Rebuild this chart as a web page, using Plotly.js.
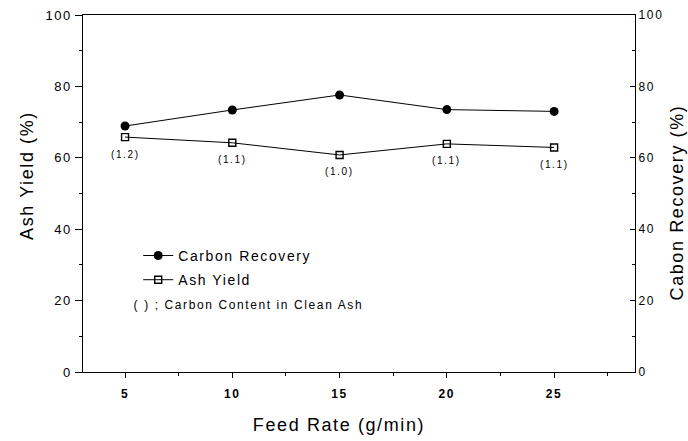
<!DOCTYPE html>
<html>
<head>
<meta charset="utf-8">
<script src="https://cdn.plot.ly/plotly-3.0.1.min.js"></script>
<style>
html,body{margin:0;padding:0;background:#fff;}
#chart{width:688px;height:441px;}
.main-svg text{letter-spacing:1.6px;}
.legend [clip-path]{clip-path:none !important;}
</style>
</head>
<body>
<div id="chart"></div>
<script>
// Data
const feedRate = [5, 10, 15, 20, 25];
const carbonRecovery = [68.9, 73.4, 77.6, 73.5, 73.0];
const ashYield = [65.8, 64.2, 60.8, 63.9, 62.9];
const carbonContent = ['(1.2)', '(1.1)', '(1.0)', '(1.1)', '(1.1)'];
const xTicks = [5, 10, 15, 20, 25];
const yTicks = [0, 20, 40, 60, 80, 100];

const FONT = 'Liberation Sans, Arial, Helvetica, sans-serif';

const traces = [
  {
    x: feedRate, y: carbonRecovery, yaxis: 'y2',
    name: 'Carbon Recovery', legendgroup: 'a', mode: 'lines+markers',
    line: {color: '#000', width: 1},
    marker: {symbol: 'circle', size: 9, color: '#000'}
  },
  {
    x: feedRate, y: ashYield, yaxis: 'y',
    name: 'Ash Yield', legendgroup: 'b', mode: 'lines+markers',
    line: {color: '#000', width: 1},
    marker: {symbol: 'square-open', size: 7, color: '#000', line: {width: 1.4, color: '#000'}}
  }
];

const annotations = feedRate.map((x, i) => ({
  x: x, y: ashYield[i], xref: 'x', yref: 'y',
  text: carbonContent[i], showarrow: false,
  yshift: -17, font: {family: FONT, size: 10, color: '#000'}
}));
annotations.push({
  xref: 'paper', yref: 'paper', x: 0.3, y: 0.188,
  xanchor: 'center', yanchor: 'middle', showarrow: false,
  text: '( ) ; Carbon Content in Clean Ash',
  font: {family: FONT, size: 12, color: '#000'}
});

const layout = {
  width: 688, height: 441,
  margin: {l: 83, r: 53, t: 15, b: 69},
  paper_bgcolor: '#fff', plot_bgcolor: '#fff',
  font: {family: FONT, color: '#000'},
  showlegend: true,
  legend: {
    x: 0.1, y: 0.37, xanchor: 'left', yanchor: 'top',
    bgcolor: 'rgba(0,0,0,0)', borderwidth: 0,
    font: {family: FONT, size: 14, color: '#000'},
    tracegroupgap: 3
  },
  xaxis: {
    range: [3.04, 28.77],
    tickvals: xTicks, ticktext: xTicks.map(String),
    ticks: 'outside', ticklen: 5, tickwidth: 1, tickcolor: '#000',
    ticklabelstandoff: 6,
    minor: {dtick: 2.5, tick0: 2.5, ticks: 'outside', ticklen: 3, tickcolor: '#000'},
    showline: true, linecolor: '#000', linewidth: 1, mirror: true,
    showgrid: false, zeroline: false,
    tickfont: {family: FONT, size: 12, weight: 'bold', color: '#000'},
    title: {text: 'Feed Rate (g/min)', font: {family: FONT, size: 18, color: '#000'}, standoff: 17}
  },
  yaxis: {
    range: [0, 100],
    tickvals: yTicks, ticktext: yTicks.map(String),
    ticks: 'outside', ticklen: 7, tickwidth: 1, tickcolor: '#000',
    minor: {dtick: 10, ticks: 'outside', ticklen: 3, tickcolor: '#000'},
    showline: true, linecolor: '#000', linewidth: 1.5,
    showgrid: false, zeroline: false,
    tickfont: {family: FONT, size: 13, color: '#000'},
    title: {text: 'Ash Yield (%)', font: {family: FONT, size: 18, color: '#000'}, standoff: 12}
  },
  yaxis2: {
    range: [0, 100], overlaying: 'y', side: 'right',
    tickvals: yTicks, ticktext: yTicks.map(String),
    ticks: 'inside', ticklen: 5, tickwidth: 1, tickcolor: '#000',
    minor: {dtick: 10, ticks: 'inside', ticklen: 3, tickcolor: '#000'},
    showline: true, linecolor: '#000', linewidth: 1.2,
    showgrid: false, zeroline: false,
    tickfont: {family: FONT, size: 12, color: '#000'},
    title: {text: 'Cabon Recovery (%)', font: {family: FONT, size: 18, color: '#000'}, standoff: 12}
  },
  annotations: annotations
};

Plotly.newPlot('chart', traces, layout, {displayModeBar: false, staticPlot: true}).then(function (gd) {
  // nudge axis titles to match the off-centre placement in the original figure
  const shift = {'.g-xtitle': 'translate(-20,0)', '.g-ytitle': 'translate(0,-18)', '.g-y2title': 'translate(0,9)'};
  Object.keys(shift).forEach(function (sel) {
    const el = gd.querySelector(sel);
    if (el) el.setAttribute('transform', shift[sel]);
  });
});
</script>
</body>
</html>
